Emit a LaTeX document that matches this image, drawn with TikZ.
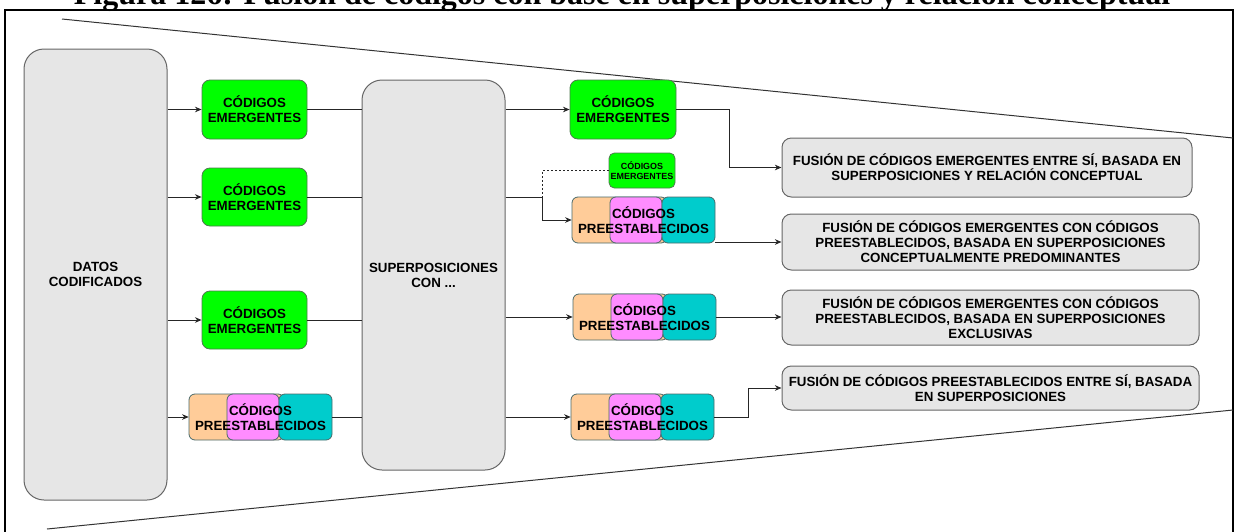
\documentclass[tikz,border=0pt]{standalone}
\usepackage{fontspec}
\setmainfont{Liberation Sans}
\newfontfamily\titlefont{Liberation Serif}
\usetikzlibrary{arrows.meta}

\definecolor{boxgray}{HTML}{E6E6E6}
\definecolor{edgegray}{HTML}{666666}
\definecolor{codegreen}{HTML}{00FF00}
\definecolor{greenedge}{HTML}{4F7A4F}
\definecolor{peach}{HTML}{FFCC99}
\definecolor{orchid}{HTML}{FF8CFF}
\definecolor{aqua}{HTML}{00CCCC}
\definecolor{setedge}{HTML}{4A6A6A}
\definecolor{wire}{HTML}{262626}

\tikzset{
  sz/.style 2 args={minimum width=#1*0.75pt, minimum height=#2*0.75pt},
  txt/.style={inner sep=0pt, align=center, text=black,
    font=\fontsize{10}{11.3}\selectfont\bfseries},
  graybox/.style={txt, draw=edgegray, fill=boxgray, line width=0.75pt},
  bigbox/.style={graybox, rounded corners=15pt},
  resultbox/.style={graybox, rounded corners=7pt},
  greenbox/.style={txt, draw=greenedge, fill=codegreen, line width=0.6pt, rounded corners=6pt},
  smallgreen/.style={greenbox, rounded corners=4pt,
    font=\fontsize{6.7}{7.7}\selectfont\bfseries},
  setpart/.style={draw=setedge, line width=0.6pt, rounded corners=4.5pt},
  arr/.style={draw=wire, line width=0.7pt, -{Stealth[length=5pt, width=4.2pt]}},
  ln/.style={draw=wire, line width=0.7pt},
  dotln/.style={draw=wire, line width=0.7pt, dash pattern=on 1.5pt off 1.5pt},
  funnel/.style={draw=black!80, line width=0.75pt},
}

% three overlapping coloured cards carrying one label: name, left, top
\newcommand\codeset[3]{%
  \draw[setpart, fill=peach]  (#2,#3) rectangle ++(95,46);
  \draw[setpart, fill=orchid] (#2+38,#3) rectangle ++(52,46);
  \draw[setpart, fill=aqua]   (#2+90,#3) rectangle ++(53,46);
  \node[txt, sz={143}{46}] (#1) at (#2+71.5,#3+23) {CÓDIGOS\\PREESTABLECIDOS};
}

\begin{document}
\begin{tikzpicture}[x=0.75pt, y=-0.75pt]
\useasboundingbox (0,0) rectangle (1236,532);

% caption and outer frame
\node[anchor=base, inner sep=0pt, font=\titlefont\fontsize{24}{28}\selectfont\bfseries]
  (title) at (622,4.5) {Figura 126: Fusión de códigos con base en superposiciones y relación conceptual};
\draw[line width=2pt] (5,10) rectangle (1233,560);

% funnel outline
\draw[funnel] (62,19) -- (1233,138);
\draw[funnel] (47,529) -- (1233,410);

% input and pivot columns
\node[bigbox, sz={143}{451}] (datos) at (95.5,274.5) {DATOS\\CODIFICADOS};
\node[bigbox, sz={143}{390}] (sup) at (433.5,275) {SUPERPOSICIONES\\CON ...};

\node[greenbox, sz={105}{59}] (g1) at (254.5,109.5) {CÓDIGOS\\EMERGENTES};
\node[greenbox, sz={105}{58}] (g2) at (254.5,197) {CÓDIGOS\\EMERGENTES};
\node[greenbox, sz={105}{58}] (g3) at (254.5,320) {CÓDIGOS\\EMERGENTES};
\codeset{p1}{189}{394}

% output column
\node[greenbox, sz={106}{59}] (g4) at (623,109.5) {CÓDIGOS\\EMERGENTES};
\node[smallgreen, sz={66}{35}] (g5) at (642,170.5) {CÓDIGOS\\EMERGENTES};
\codeset{p2}{572}{197}
\codeset{p3}{573}{294}
\codeset{p4}{571}{394}

% fusion results
\node[resultbox, sz={410}{59}] (f1) at (987,167.5)
  {FUSIÓN DE CÓDIGOS EMERGENTES ENTRE SÍ, BASADA EN\\SUPERPOSICIONES Y RELACIÓN CONCEPTUAL};
\node[resultbox, sz={417}{56}] (f2) at (990.5,242)
  {FUSIÓN DE CÓDIGOS EMERGENTES CON CÓDIGOS\\PREESTABLECIDOS, BASADA EN SUPERPOSICIONES\\CONCEPTUALMENTE PREDOMINANTES};
\node[resultbox, sz={417}{55}] (f3) at (990.5,317.5)
  {FUSIÓN DE CÓDIGOS EMERGENTES CON CÓDIGOS\\PREESTABLECIDOS, BASADA EN SUPERPOSICIONES\\EXCLUSIVAS};
\node[resultbox, sz={417}{44}] (f4) at (990.5,388)
  {FUSIÓN DE CÓDIGOS PREESTABLECIDOS ENTRE SÍ, BASADA\\EN SUPERPOSICIONES};

% bend points
\coordinate (kp2) at (542,197);
\coordinate (kf1) at (729,109.5);
\coordinate (kf4) at (748,417);

% data to codes
\draw[arr] (datos.east |- g1) -- (g1);
\draw[arr] (datos.east |- g2) -- (g2);
\draw[arr] (datos.east |- g3) -- (g3);
\draw[arr] (datos.east |- p1) -- (p1);

% codes into overlaps
\draw[ln] (g1) -- (sup.west |- g1);
\draw[ln] (g2) -- (sup.west |- g2);
\draw[ln] (g3) -- (sup.west |- g3);
\draw[ln] (p1) -- (sup.west |- p1);

% overlaps to grouped codes
\draw[arr] (sup.east |- g4) -- (g4);
\draw[arr] (sup.east |- g2) -- (kp2) |- (p2);
\draw[dotln] (g5) -| (kp2);
\draw[arr] (sup.east |- p3) -- (p3);
\draw[arr] (sup.east |- p4) -- (p4);

% grouped codes to fusion results
\draw[arr] (g4) -- (kf1) |- (f1);
\draw[arr] (p2.east |- f2) -- (f2);
\draw[arr] (p3) -- (f3.west |- p3);
\draw[arr] (p4) -- (kf4) |- (f4);
\end{tikzpicture}
\end{document}
